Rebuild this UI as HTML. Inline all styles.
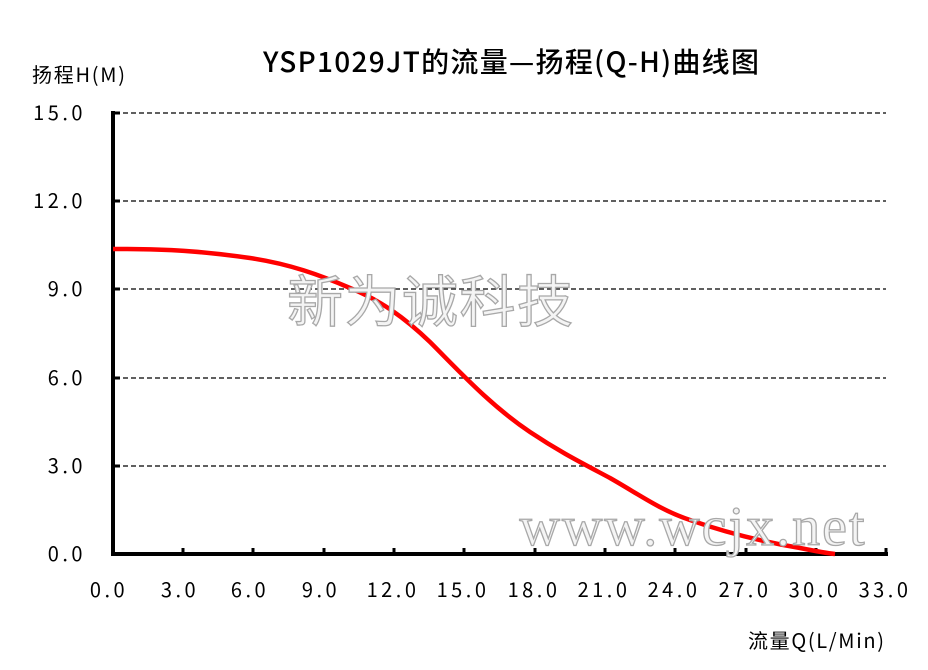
<!DOCTYPE html>
<html><head><meta charset="utf-8"><style>
body{margin:0;background:#fff;}
svg{display:block;}
text{font-family:"Liberation Sans","Noto Sans CJK SC",sans-serif;}
.t{font-family:"Noto Sans CJK SC",sans-serif;font-size:20px;fill:#000;letter-spacing:3.5px}
</style></head><body>
<svg width="928" height="670" xmlns="http://www.w3.org/2000/svg">
<rect width="928" height="670" fill="#fff"/>
<text x="511" y="72" text-anchor="middle" font-size="28" font-weight="500" style="font-family:'Noto Sans CJK SC',sans-serif" fill="#000" textLength="496">YSP1029JT的流量—扬程(Q-H)曲线图</text>
<text x="32" y="82" font-size="20" style="font-family:'Noto Sans CJK SC',sans-serif" textLength="93">扬程H(M)</text>
<text x="748" y="648" font-size="20" style="font-family:'Noto Sans CJK SC',sans-serif" textLength="136">流量Q(L/Min)</text>
<g stroke="#000" stroke-width="1.3" stroke-dasharray="5,3">
<line x1="115" y1="113" x2="886" y2="113"/>
<line x1="115" y1="201" x2="886" y2="201"/>
<line x1="115" y1="289" x2="886" y2="289"/>
<line x1="115" y1="378" x2="886" y2="378"/>
<line x1="115" y1="466" x2="886" y2="466"/>
</g>
<g stroke="#000" stroke-width="4">
<line x1="113" y1="111" x2="113" y2="556"/>
<line x1="111" y1="554" x2="888" y2="554"/>
</g>
<g stroke="#000" stroke-width="3">
<line x1="113" y1="113" x2="120" y2="113"/>
<line x1="113" y1="201" x2="120" y2="201"/>
<line x1="113" y1="289" x2="120" y2="289"/>
<line x1="113" y1="378" x2="120" y2="378"/>
<line x1="113" y1="466" x2="120" y2="466"/>
<line x1="183" y1="548" x2="183" y2="554"/>
<line x1="253" y1="548" x2="253" y2="554"/>
<line x1="324" y1="548" x2="324" y2="554"/>
<line x1="394" y1="548" x2="394" y2="554"/>
<line x1="464" y1="548" x2="464" y2="554"/>
<line x1="535" y1="548" x2="535" y2="554"/>
<line x1="605" y1="548" x2="605" y2="554"/>
<line x1="675" y1="548" x2="675" y2="554"/>
<line x1="746" y1="548" x2="746" y2="554"/>
<line x1="816" y1="548" x2="816" y2="554"/>
<line x1="886" y1="548" x2="886" y2="554"/>
</g>
<g>
<text class="t" x="86" y="120" text-anchor="end">15.0</text>
<text class="t" x="86" y="208" text-anchor="end">12.0</text>
<text class="t" x="86" y="296" text-anchor="end">9.0</text>
<text class="t" x="86" y="385" text-anchor="end">6.0</text>
<text class="t" x="86" y="473" text-anchor="end">3.0</text>
<text class="t" x="86" y="561" text-anchor="end">0.0</text>
</g>
<g>
<text class="t" x="109" y="597" text-anchor="middle">0.0</text>
<text class="t" x="180" y="597" text-anchor="middle">3.0</text>
<text class="t" x="250" y="597" text-anchor="middle">6.0</text>
<text class="t" x="321" y="597" text-anchor="middle">9.0</text>
<text class="t" x="393" y="597" text-anchor="middle">12.0</text>
<text class="t" x="463" y="597" text-anchor="middle">15.0</text>
<text class="t" x="534" y="597" text-anchor="middle">18.0</text>
<text class="t" x="604" y="597" text-anchor="middle">21.0</text>
<text class="t" x="674" y="597" text-anchor="middle">24.0</text>
<text class="t" x="745" y="597" text-anchor="middle">27.0</text>
<text class="t" x="815" y="597" text-anchor="middle">30.0</text>
<text class="t" x="885" y="597" text-anchor="middle">33.0</text>
</g>
<path d="M113,249 C170,249 200,251 250,258 C290,264 320,275 350,288 C380,300 405,318 430,342 C460,372 490,405 530,432 C560,452 580,462 610,478 C640,495 660,510 690,520 C730,534 770,543 800,548 C815,551 825,553 835,554" fill="none" stroke="#f00" stroke-width="4.5"/>
<text x="432" y="322" text-anchor="middle" font-size="56" style="font-family:'Noto Sans CJK SC',sans-serif;letter-spacing:4px" fill="#f4f4f4" stroke="#a8a8a8" stroke-width="1.3" textLength="290">新为诚科技</text>
<text x="692" y="545" text-anchor="middle" font-size="56" style="font-family:'Liberation Serif',serif" fill="#f4f4f4" stroke="#a8a8a8" stroke-width="1.3" textLength="345">www.wcjx.net</text>
</svg>
</body></html>
